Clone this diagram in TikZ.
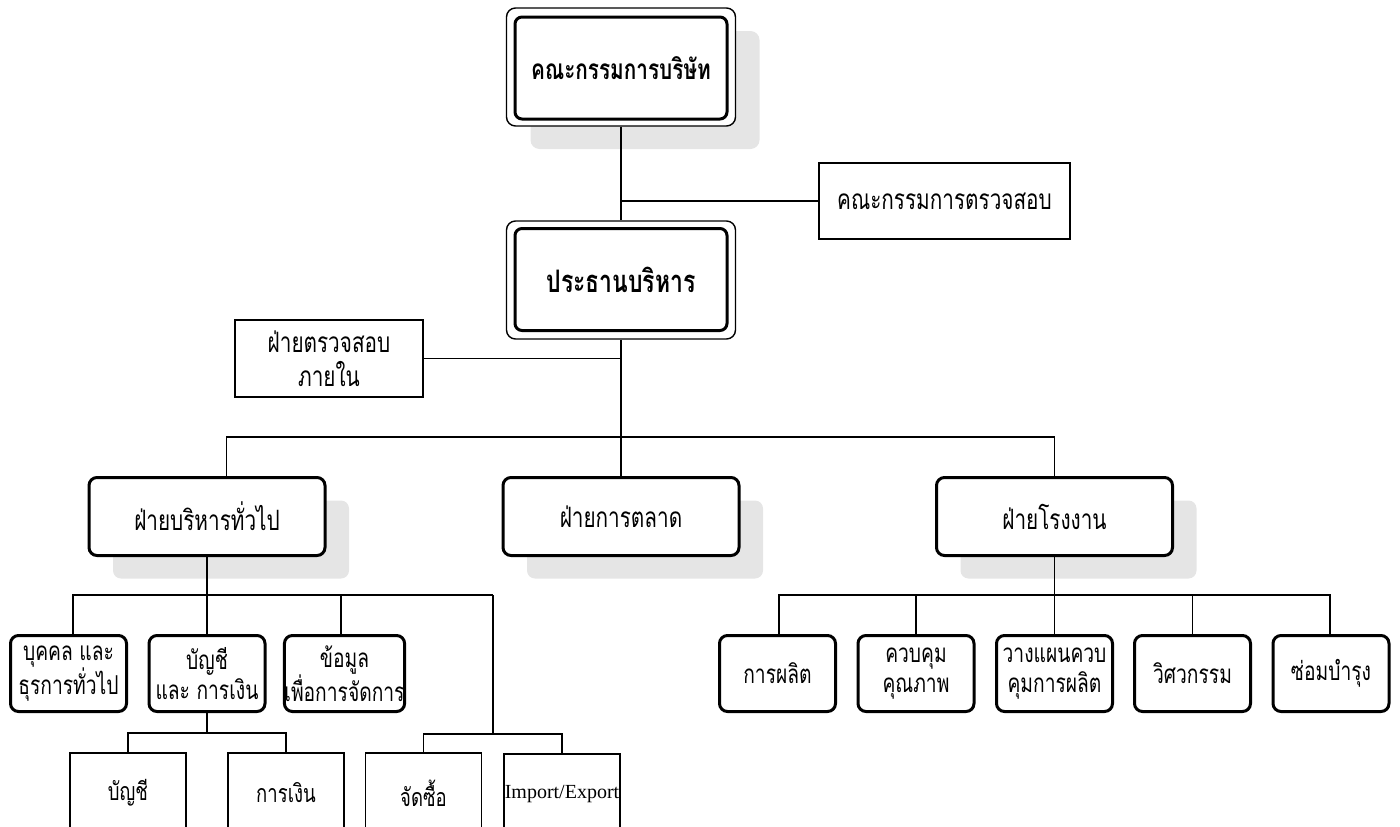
\documentclass[tikz,border=0pt]{standalone}
\usepackage{fontspec}
\usetikzlibrary{shadows}
\newfontfamily\thaifont[Script=Thai,FakeStretch=0.74]{Loma}
\newfontfamily\latfont{Liberation Serif}
\tikzset{
  link/.style = {line width=1.6pt},
  shadowed/.style = {drop shadow={shadow xshift=24pt, shadow yshift=-23pt, fill=black!10, opacity=1}},
  headout/.style = {draw, line width=1.4pt, rounded corners=9pt, fill=white, minimum width=229pt, minimum height=118pt, inner sep=0},
  headin/.style = {draw, line width=3pt, rounded corners=7pt, minimum width=212pt, minimum height=102pt, inner sep=0, font=\thaifont\bfseries\fontsize{28}{34}\selectfont},
  sidebox/.style = {draw, line width=1.8pt, fill=white, inner sep=0, align=center, font=\thaifont\fontsize{28}{34}\selectfont},
  deptbox/.style = {draw, line width=3pt, rounded corners=8pt, fill=white, minimum width=236pt, minimum height=78pt, inner sep=0, font=\thaifont\fontsize{28}{30}\selectfont},
  unitbox/.style = {draw, line width=3pt, rounded corners=8pt, fill=white, minimum width=116pt, minimum height=76pt, inner sep=0, align=center, font=\thaifont\fontsize{26}{30}\selectfont},
  subbox/.style = {draw, line width=1.8pt, fill=white, minimum width=116pt, minimum height=80pt, inner sep=0, font=\thaifont\fontsize{25}{30}\selectfont},
}
\begin{document}
\begin{tikzpicture}[x=1pt, y=-1pt]
  \useasboundingbox (0, 0) rectangle (1400, 827);

  \node [headout, shadowed] (board) at (621, 67) {};
  \node [headin] (boardin) at (621, 68) {คณะกรรมการบริษัท};

  \node [sidebox, minimum width=251pt, minimum height=76pt] (audit) at (944.5, 201) {คณะกรรมการตรวจสอบ};

  \node [headout] (ceo) at (621, 280) {};
  \node [headin, font=\thaifont\bfseries\fontsize{31}{36}\selectfont] (ceoin) at (621, 279.5) {ประธานบริหาร};

  \node [sidebox, minimum width=188pt, minimum height=77pt] (intaudit) at (329, 358.5) {ฝ่ายตรวจสอบ\\ภายใน};

  \node [deptbox, shadowed] (admin) at (207, 516.5) {ฝ่ายบริหารทั่วไป};
  \node [deptbox, shadowed] (mkt) at (621, 516.5) {ฝ่ายการตลาด};
  \node [deptbox, shadowed] (plant) at (1054.5, 516.5) {ฝ่ายโรงงาน};

  \node [unitbox] (pers) at (68.5, 673.5) {บุคคล และ\\ธุรการทั่วไป};
  \node [unitbox] (acct) at (207, 673.5) {บัญชี\\และ การเงิน};
  \node [unitbox] (info) at (344.5, 673.5) {ข้อมูล\\เพื่อการจัดการ};

  \node [unitbox] (prod) at (777.5, 673.5) {การผลิต};
  \node [unitbox] (qc) at (916, 673.5) {ควบคุม\\คุณภาพ};
  \node [unitbox] (plan) at (1054.5, 673.5) {วางแผนควบ\\คุมการผลิต};
  \node [unitbox] (eng) at (1192.5, 673.5) {วิศวกรรม};
  \node [unitbox] (mnt) at (1331, 673.5) {ซ่อมบำรุง};

  \node [subbox] (acc2) at (128, 793) {บัญชี};
  \node [subbox] (fin) at (286, 793) {การเงิน};
  \node [subbox] (pur) at (423.5, 793) {จัดซื้อ};
  \node [subbox, font=\latfont\fontsize{20}{24}\selectfont] (imp) at (562, 794) {Import/Export};

  \coordinate (bus) at (621, 437);
  \coordinate (abus) at (73, 595);
  \coordinate (abusr) at (493, 595);
  \coordinate (cbus) at (207, 733);
  \coordinate (jbus) at (493, 734);
  \coordinate (gbus) at (1055, 595);

  \draw [link] (board.south) -- (ceo.north);
  \draw [link] (audit.west) -- (audit.west -| ceo.north);
  \draw [link] (ceo.south) -- (mkt.north);
  \draw [link] (intaudit.east) -- (intaudit.east -| ceo.south);
  \draw [link] ([xshift=19.5pt]admin.north) |- (bus) -| (plant.north);

  \draw [link] (admin.south) -- (acct.north);
  \draw [link] ([xshift=4.5pt]pers.north) |- (abus) -- (abusr);
  \draw [link] ([xshift=-3.5pt]info.north) -- ([xshift=-3.5pt]info.north |- abus);
  \draw [link] (abusr) -- (jbus);
  \draw [link] (pur.north) |- (jbus) -| (imp.north);

  \draw [link] (acct.south) -- (cbus);
  \draw [link] (acc2.north) |- (cbus) -| (fin.north);

  \draw [link] (plant.south) -- (plan.north);
  \draw [link] ([xshift=1.5pt]prod.north) |- (gbus) -| ([xshift=-1pt]mnt.north);
  \draw [link] (qc.north) -- (qc.north |- gbus);
  \draw [link] (eng.north) -- (eng.north |- gbus);
\end{tikzpicture}
\end{document}
